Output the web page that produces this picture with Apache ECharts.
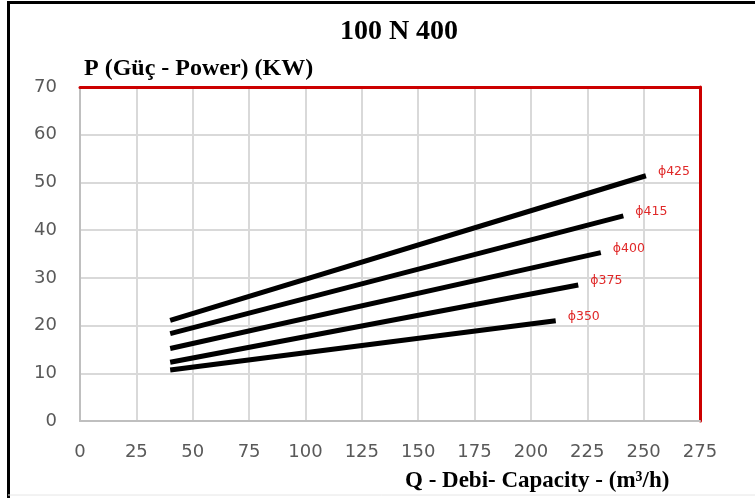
<!DOCTYPE html>
<html>
<head>
<meta charset="utf-8">
<script src="https://cdn.jsdelivr.net/npm/echarts@6/dist/echarts.min.js"></script>
<style>
html,body{margin:0;padding:0;background:#fff;}
#chart{width:755px;height:498px;}
</style>
</head>
<body>
<div id="chart"></div>
<script>
const titleText = '100 N 400';
const yName = 'P (Güç - Power) (KW)';
const xName = 'Q - Debi- Capacity - (m³/h)';
const seriesNames = ['ϕ425', 'ϕ415', 'ϕ400', 'ϕ375', 'ϕ350'];
const qStart = [40, 40, 40, 40, 40];
const qEnd = [251, 241, 231, 221, 211];
const pStart = [21.1, 18.3, 15.2, 12.3, 10.7];
const pEnd = [51.4, 43.0, 35.3, 28.5, 21.0];
const xMin = 0, xMax = 275, xStep = 25;
const yMin = 0, yMax = 70, yStep = 10;

const chart = echarts.init(document.getElementById('chart'), null, {renderer: 'canvas'});

const series = seriesNames.map((n, i) => ({
  name: n,
  type: 'line',
  data: [[qStart[i], pStart[i]], [qEnd[i], pEnd[i]]],
  symbol: 'none',
  lineStyle: {color: '#000', width: 5, cap: 'butt'},
  silent: true,
  animation: false,
  endLabel: {
    show: true,
    formatter: n,
    color: '#e02828',
    fontFamily: 'DejaVu Sans',
    fontSize: 12.5,
    offset: [4, -4]
  }
}));

chart.setOption({
  animation: false,
  backgroundColor: '#fff',
  title: [
    {text: titleText, left: 394, top: 13, textAlign: 'center',
     textStyle: {fontFamily: 'Liberation Serif', fontWeight: 'bold', fontSize: 28, color: '#000'}},
    {text: xName, left: 400, top: 465,
     textStyle: {fontFamily: 'Liberation Serif', fontWeight: 'bold', fontSize: 23, color: '#000'}}
  ],
  graphic: [
    {type: 'polyline', shape: {points: [[8.5, 498], [8.5, 2.5], [755, 2.5]]},
     style: {stroke: '#000', lineWidth: 3, fill: null}, silent: true},
    {type: 'line', shape: {x1: 8, y1: 495, x2: 755, y2: 495},
     style: {stroke: '#e6e6e6', lineWidth: 1}, silent: true}
  ],
  grid: {left: 80, right: 55, top: 87, bottom: 77, containLabel: false},
  xAxis: [
    {type: 'value', min: xMin, max: xMax, interval: xStep, position: 'bottom',
     axisLine: {show: true, lineStyle: {color: '#bfbfbf', width: 2}},
     axisTick: {show: false},
     axisLabel: {color: '#595959', fontFamily: 'DejaVu Sans', fontSize: 18, margin: 22},
     splitLine: {show: true, lineStyle: {color: '#d9d9d9', width: 2}}},
    {type: 'value', min: xMin, max: xMax, interval: xStep, position: 'top',
     axisLine: {show: true, onZero: false, lineStyle: {color: '#cc0000', width: 3}},
     axisTick: {show: false}, axisLabel: {show: false}, splitLine: {show: false}}
  ],
  yAxis: [
    {type: 'value', min: yMin, max: yMax, interval: yStep, position: 'left',
     name: yName, nameLocation: 'end', nameGap: 6,
     nameTextStyle: {fontFamily: 'Liberation Serif', fontWeight: 'bold', fontSize: 24, color: '#000',
                     align: 'left', verticalAlign: 'bottom', padding: [0, 0, 0, 4]},
     axisLine: {show: true, onZero: false, lineStyle: {color: '#bfbfbf', width: 2}},
     axisTick: {show: false},
     axisLabel: {color: '#595959', fontFamily: 'DejaVu Sans', fontSize: 18, margin: 23},
     splitLine: {show: true, lineStyle: {color: '#d9d9d9', width: 2}}},
    {type: 'value', min: yMin, max: yMax, interval: yStep, position: 'right',
     axisLine: {show: true, onZero: false, lineStyle: {color: '#cc0000', width: 3}},
     axisTick: {show: false}, axisLabel: {show: false}, splitLine: {show: false}}
  ],
  series: series
});
</script>
</body>
</html>
